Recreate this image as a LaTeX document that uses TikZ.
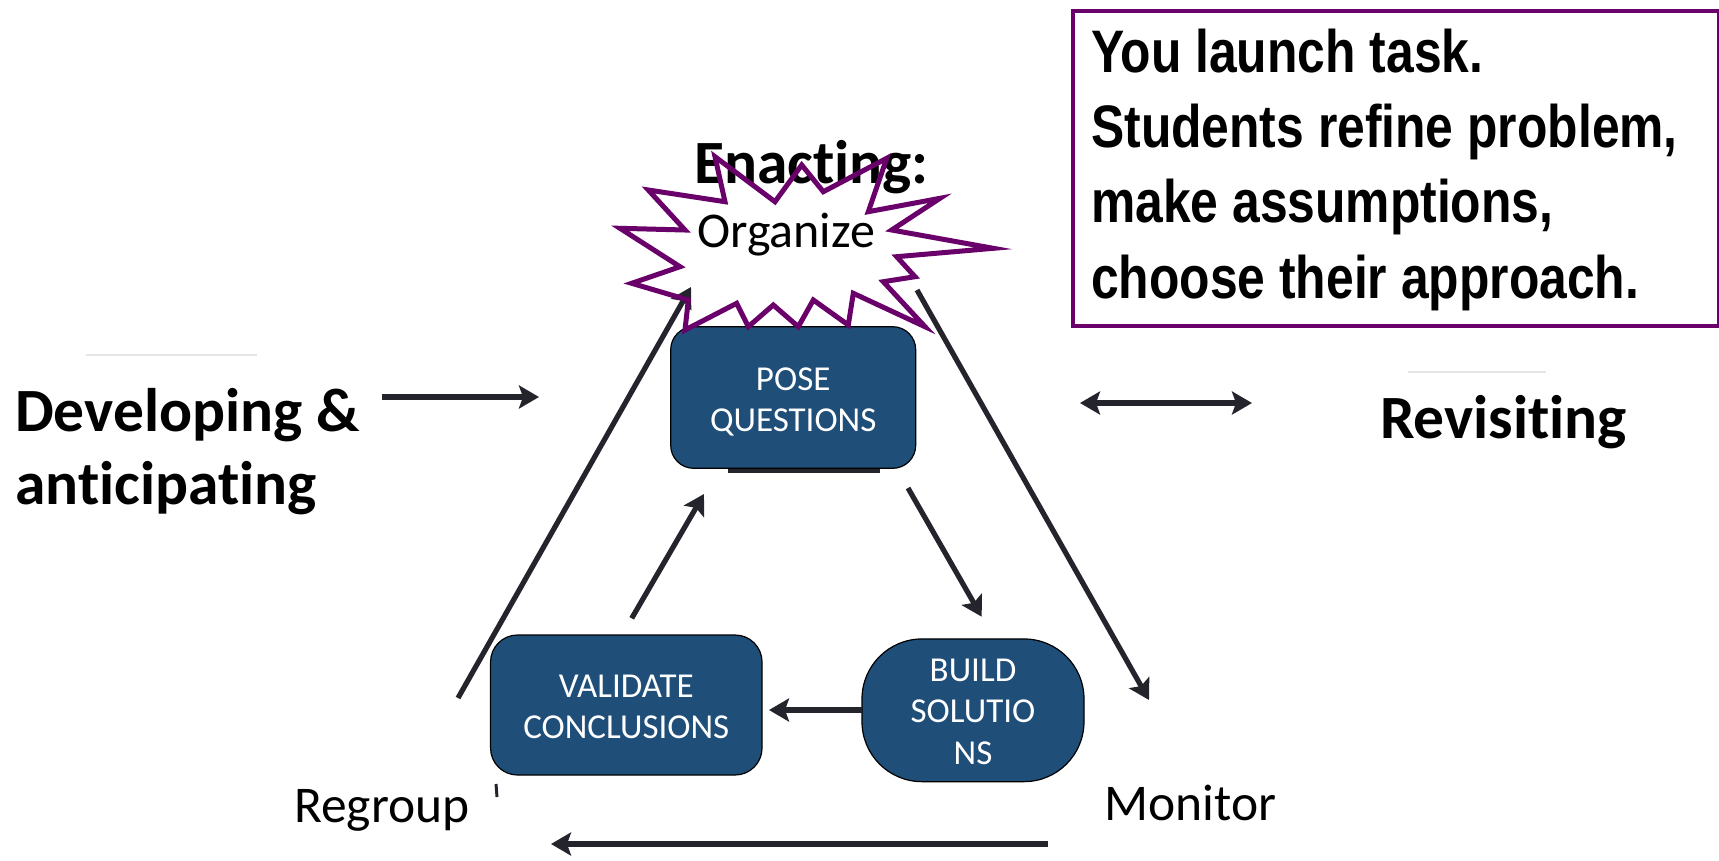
\documentclass[tikz,border=0pt]{standalone}
\usepackage{fontspec}
\setmainfont{Carlito}[Ligatures=NoCommon]
\newfontfamily\notefont{Liberation Sans}[FakeStretch=0.83]
\usetikzlibrary{arrows.meta}

\definecolor{boxblue}{RGB}{31,78,121}
\definecolor{burstpurple}{RGB}{106,0,106}
\definecolor{ink}{RGB}{36,36,44}

\begin{document}
\begin{tikzpicture}[x=1pt,y=-1pt,
  >={Stealth[length=20pt,width=23pt,inset=4pt]},
  flow/.style={draw=ink, line width=5.2pt, ->},
  twoway/.style={draw=ink, line width=5.2pt, <->},
  stage/.style={draw=black, line width=1.2pt, fill=boxblue, text=white,
    align=center, inner sep=0pt,
    font=\fontsize{35pt}{41.5pt}\selectfont},
  heading/.style={inner sep=0pt, align=left,
    font=\fontsize{61.5pt}{73pt}\selectfont\bfseries},
  phase/.style={inner sep=0pt, font=\fontsize{51.5pt}{62pt}\selectfont},
  burst/.style={draw=burstpurple, line width=5pt, line join=miter},
]
\useasboundingbox (0,0) rectangle (1719,860);

% shadow under the top stage
\fill[ink] (728,445) rectangle (880,473);

% the three stages of the cycle
\node[stage, minimum width=245pt, minimum height=141.6pt, rounded corners=23pt]
  (pose) at (793.2,397.5) {};
\node[stage, minimum width=271.5pt, minimum height=140pt, rounded corners=27pt]
  (validate) at (626.3,705) {};
\node[stage, minimum width=222pt, minimum height=142.7pt, rounded corners=60pt]
  (build) at (973,710.3) {};
\node[stage, draw=none, fill=none] (poseText) at ([yshift=-4.5pt]pose.center) {POSE\\QUESTIONS};
\node[stage, draw=none, fill=none] (validateText) at ([yshift=-2pt]validate.center) {VALIDATE\\CONCLUSIONS};
\node[stage, draw=none, fill=none] (buildText) at ([yshift=-1.5pt]build.center) {BUILD\\SOLUTIO\\NS};

% end points of the connectors
\coordinate (devA) at (382,397);
\coordinate (devB) at (539,397);
\coordinate (revA) at (1080,403);
\coordinate (revB) at (1252,403);
\coordinate (regroupA) at (458,698);
\coordinate (regroupB) at (691,287);
\coordinate (monitorA) at (917,290);
\coordinate (monitorB) at (1149,700);
\coordinate (backA) at (1048,844);
\coordinate (backB) at (551,844);
\coordinate (poseOut) at (908,488);
\coordinate (buildIn) at (981.7,616.7);
\coordinate (buildOut) at (862,710);
\coordinate (validateIn) at (769,710);
\coordinate (validateOut) at (631.7,618.3);
\coordinate (poseIn) at (704,494);

\draw[flow] (devA) -- (devB);
\draw[twoway] (revA) -- (revB);
\draw[flow] (regroupA) -- (regroupB);
\draw[flow] (monitorA) -- (monitorB);
\draw[flow] (backA) -- (backB);
\draw[flow] (poseOut) -- (buildIn);
\draw[flow] (buildOut) -- (validateIn);
\draw[flow] (validateOut) -- (poseIn);

% faint rules and a small mark
\draw[black!10, line width=2pt] (86,355) -- (257,355);
\draw[black!10, line width=2pt] (1408,372) -- (1546,372);
\draw[ink, line width=3pt] (496,784) -- (497,797);

% labels
\node[heading, anchor=base west] (enacting) at (694,183) {Enacting:};
\node[inner sep=0pt, anchor=base west, font=\fontsize{50pt}{60pt}\selectfont]
  (organize) at (697,247) {Organize};
\node[heading, anchor=base west] (developing) at (15,431) {Developing \&};
\node[heading, anchor=base west] (anticipating) at (15,504) {anticipating};
\node[heading, anchor=base west] (revisiting) at (1380,438) {Revisiting};
\node[phase, anchor=base west] (regroup) at (294,822) {Regroup};
\node[phase, anchor=base west] (monitor) at (1104,820) {Monitor};

% starburst around the organize label
\draw[burst] (648.3,190) -- (725,201.7) -- (715,156.7) -- (775,201.7)
  -- (801.7,165) -- (823.3,191.7) -- (886.7,158.3) -- (868.3,211.7)
  -- (940,198.3) -- (891.7,230) -- (993.3,248.3) -- (896.7,256.7)
  -- (915,276.7) -- (883.3,281.7) -- (925,326.7) -- (853.3,293.3)
  -- (848.3,325) -- (813.3,300) -- (798.3,326.7) -- (773.3,305)
  -- (748.3,326.7) -- (736.7,303.3) -- (685,330) -- (688.3,300)
  -- (631.7,283.3) -- (680,266.7) -- (620,228.3) -- (685,230) -- cycle;

% note box
\node[draw=burstpurple, line width=3.5pt, anchor=north west,
  minimum width=646pt, minimum height=315pt] (note) at (1071,9) {};
\node[inner sep=0pt, anchor=base west] (line1) at (1091,72)
  {\notefont\bfseries\fontsize{60pt}{75pt}\selectfont You launch task.};
\node[inner sep=0pt, anchor=base west] (line2) at (1091,147.3)
  {\notefont\bfseries\fontsize{60pt}{75pt}\selectfont Students refine problem,};
\node[inner sep=0pt, anchor=base west] (line3) at (1091,222.7)
  {\notefont\bfseries\fontsize{60pt}{75pt}\selectfont make assumptions,};
\node[inner sep=0pt, anchor=base west] (line4) at (1091,298)
  {\notefont\bfseries\fontsize{60pt}{75pt}\selectfont choose their approach.};
\end{tikzpicture}
\end{document}
